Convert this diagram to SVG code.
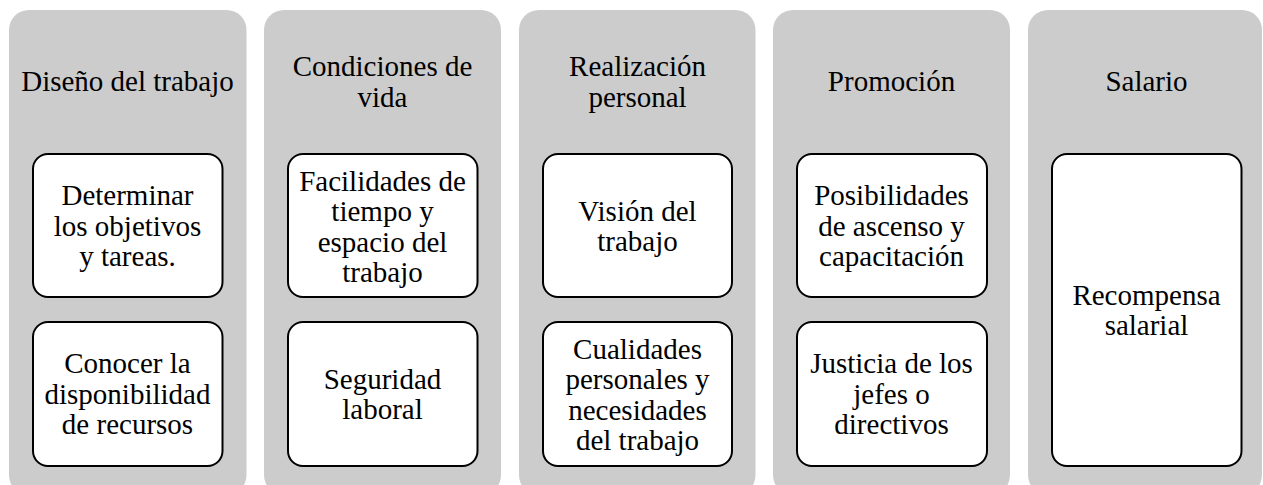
<svg xmlns="http://www.w3.org/2000/svg" width="1263" height="485" viewBox="0 0 1263 485">
<style>
.col{fill:#cccccc;}
.box{fill:#ffffff;stroke:#000000;stroke-width:2;}
.t{font-family:"Liberation Serif","Times New Roman",serif;font-size:29px;fill:#000000;text-anchor:middle;}
</style>
<rect x="0" y="0" width="1263" height="485" fill="#ffffff"/>
<g id="col-diseno">
<rect class="col" x="9" y="10" width="237.5" height="485" rx="20"/>
<text class="t" font-family="Liberation Serif" x="127.5" y="91">Diseño del trabajo</text>
<g id="n-determinar">
<rect class="box" x="33" y="154" width="189.5" height="143" rx="15"/>
<text class="t" font-family="Liberation Serif" x="127.5" y="205">Determinar</text>
<text class="t" font-family="Liberation Serif" x="127.5" y="235.5">los objetivos</text>
<text class="t" font-family="Liberation Serif" x="127.5" y="266">y tareas.</text>
</g>
<g id="n-conocer">
<rect class="box" x="33" y="322" width="189.5" height="144" rx="15"/>
<text class="t" font-family="Liberation Serif" x="127.5" y="373">Conocer la</text>
<text class="t" font-family="Liberation Serif" x="127.5" y="403.5">disponibilidad</text>
<text class="t" font-family="Liberation Serif" x="127.5" y="434">de recursos</text>
</g>
</g>
<g id="col-condiciones">
<rect class="col" x="264" y="10" width="237" height="485" rx="20"/>
<text class="t" font-family="Liberation Serif" x="382.5" y="76">Condiciones de</text>
<text class="t" font-family="Liberation Serif" x="382.5" y="106.5">vida</text>
<g id="n-facilidades">
<rect class="box" x="288" y="154" width="189.5" height="143" rx="15"/>
<text class="t" font-family="Liberation Serif" x="382.5" y="190.5">Facilidades de</text>
<text class="t" font-family="Liberation Serif" x="382.5" y="221">tiempo y</text>
<text class="t" font-family="Liberation Serif" x="382.5" y="251.5">espacio del</text>
<text class="t" font-family="Liberation Serif" x="382.5" y="282">trabajo</text>
</g>
<g id="n-seguridad">
<rect class="box" x="288" y="322" width="189.5" height="144" rx="15"/>
<text class="t" font-family="Liberation Serif" x="382.5" y="388.5">Seguridad</text>
<text class="t" font-family="Liberation Serif" x="382.5" y="419">laboral</text>
</g>
</g>
<g id="col-realizacion">
<rect class="col" x="519" y="10" width="236.5" height="485" rx="20"/>
<text class="t" font-family="Liberation Serif" x="637.5" y="76">Realización</text>
<text class="t" font-family="Liberation Serif" x="637.5" y="106.5">personal</text>
<g id="n-vision">
<rect class="box" x="543" y="154" width="189" height="143" rx="15"/>
<text class="t" font-family="Liberation Serif" x="637.5" y="220.5">Visión del</text>
<text class="t" font-family="Liberation Serif" x="637.5" y="251">trabajo</text>
</g>
<g id="n-cualidades">
<rect class="box" x="543" y="322" width="189" height="144" rx="15"/>
<text class="t" font-family="Liberation Serif" x="637.5" y="358.5">Cualidades</text>
<text class="t" font-family="Liberation Serif" x="637.5" y="389">personales y</text>
<text class="t" font-family="Liberation Serif" x="637.5" y="419.5">necesidades</text>
<text class="t" font-family="Liberation Serif" x="637.5" y="450">del trabajo</text>
</g>
</g>
<g id="col-promocion">
<rect class="col" x="773" y="10" width="237" height="485" rx="20"/>
<text class="t" font-family="Liberation Serif" x="891.5" y="91">Promoción</text>
<g id="n-posibilidades">
<rect class="box" x="797" y="154" width="190" height="143" rx="15"/>
<text class="t" font-family="Liberation Serif" x="891.5" y="205">Posibilidades</text>
<text class="t" font-family="Liberation Serif" x="891.5" y="235.5">de ascenso y</text>
<text class="t" font-family="Liberation Serif" x="891.5" y="266">capacitación</text>
</g>
<g id="n-justicia">
<rect class="box" x="797" y="322" width="190" height="144" rx="15"/>
<text class="t" font-family="Liberation Serif" x="891.5" y="373">Justicia de los</text>
<text class="t" font-family="Liberation Serif" x="891.5" y="403.5">jefes o</text>
<text class="t" font-family="Liberation Serif" x="891.5" y="434">directivos</text>
</g>
</g>
<g id="col-salario">
<rect class="col" x="1028" y="10" width="234" height="485" rx="20"/>
<text class="t" font-family="Liberation Serif" x="1146.5" y="91">Salario</text>
<g id="n-recompensa">
<rect class="box" x="1052" y="154" width="189.5" height="312" rx="15"/>
<text class="t" font-family="Liberation Serif" x="1146.5" y="304.5">Recompensa</text>
<text class="t" font-family="Liberation Serif" x="1146.5" y="335">salarial</text>
</g>
</g>
<g id="connectors"></g>
</svg>
